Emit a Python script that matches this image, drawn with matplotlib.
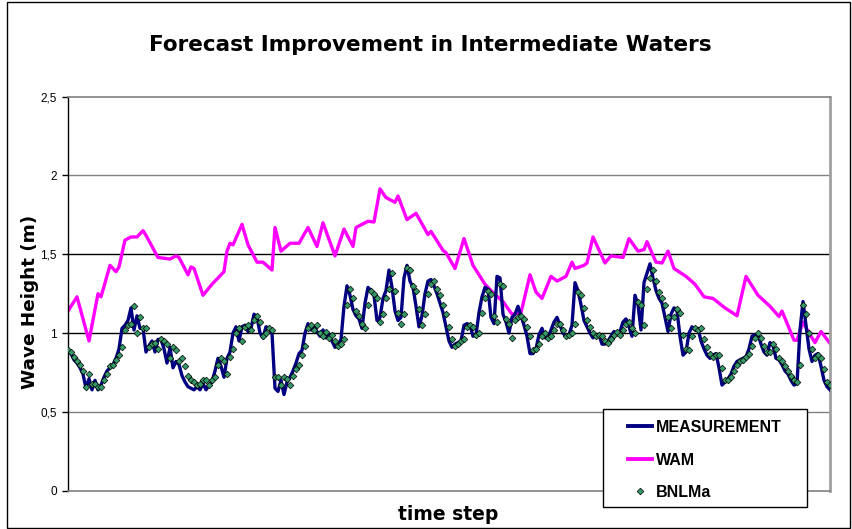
import matplotlib
matplotlib.use("Agg")
import matplotlib.pyplot as plt
from matplotlib.lines import Line2D
from matplotlib.ticker import FixedLocator, FixedFormatter
import numpy as np

# ---- data -------------------------------------------------------------
measurement = [
    0.89, 0.87, 0.83, 0.81, 0.78, 0.74, 0.65, 0.71, 0.64, 0.70,
    0.64, 0.67, 0.72, 0.76, 0.78, 0.80, 0.84, 0.90, 1.03, 1.05,
    1.08, 1.16, 1.02, 1.11, 1.03, 1.03, 0.88, 0.92, 0.95, 0.88,
    0.96, 0.96, 0.90, 0.81, 0.91, 0.78, 0.82, 0.80, 0.73, 0.69,
    0.66, 0.65, 0.64, 0.66, 0.64, 0.68, 0.64, 0.67, 0.69, 0.76,
    0.84, 0.79, 0.72, 0.84, 0.88, 1.00, 1.04, 0.95, 1.04, 1.05,
    1.01, 1.03, 1.12, 1.10, 1.00, 0.97, 1.04, 1.03, 1.00, 0.65,
    0.63, 0.70, 0.61, 0.69, 0.72, 0.76, 0.81, 0.87, 0.89, 1.00,
    1.06, 1.02, 1.04, 1.01, 0.98, 1.02, 0.97, 0.99, 0.95, 0.91,
    0.92, 0.96, 1.17, 1.30, 1.24, 1.15, 1.11, 1.09, 1.03, 1.19,
    1.29, 1.27, 1.24, 1.08, 1.10, 1.22, 1.27, 1.40, 1.29, 1.14,
    1.08, 1.10, 1.35, 1.43, 1.33, 1.29, 1.17, 1.04, 1.11, 1.25,
    1.33, 1.34, 1.30, 1.25, 1.19, 1.13, 1.04, 0.95, 0.91, 0.93,
    0.94, 0.95, 1.05, 1.06, 1.05, 0.98, 0.99, 1.13, 1.23, 1.29,
    1.28, 1.10, 1.06, 1.36, 1.35, 1.12, 1.07, 1.00, 1.10, 1.12,
    1.17, 1.11, 1.05, 0.98, 0.87, 0.87, 0.90, 0.99, 1.03, 0.97,
    0.97, 1.02, 1.07, 1.10, 1.05, 1.00, 0.98, 0.99, 1.05, 1.32,
    1.27, 1.18, 1.08, 1.04, 1.00, 0.97, 0.99, 0.99, 0.93, 0.93,
    0.95, 0.98, 1.01, 0.99, 1.01, 1.07, 1.09, 1.04, 0.98, 1.24,
    1.18, 1.02, 1.32, 1.38, 1.44, 1.35, 1.27, 1.22, 1.19, 1.10,
    1.01, 1.12, 1.16, 1.14, 0.98, 0.86, 0.88, 1.00, 1.04, 1.02,
    1.03, 0.95, 0.90, 0.86, 0.84, 0.86, 0.87, 0.78, 0.67, 0.69,
    0.71, 0.74, 0.79, 0.82, 0.83, 0.84, 0.85, 0.90, 0.98, 0.99,
    0.99, 0.93, 0.88, 0.86, 0.94, 0.92, 0.84, 0.83, 0.80, 0.76,
    0.74, 0.70, 0.67, 0.68, 1.02, 1.20, 1.05, 0.90, 0.82, 0.86,
    0.87, 0.79, 0.70, 0.66, 0.64,
]

bnlma = [
    0.89, 0.88, 0.85, 0.82, 0.80, 0.76, 0.66, 0.74, 0.68, 0.68,
    0.66, 0.66, 0.70, 0.74, 0.79, 0.80, 0.83, 0.86, 0.91, 1.02,
    1.05, 1.06, 1.17, 1.00, 1.10, 1.03, 1.03, 0.91, 0.93, 0.94,
    0.90, 0.96, 0.95, 0.93, 0.84, 0.91, 0.89, 0.82, 0.84, 0.79,
    0.73, 0.70, 0.69, 0.67, 0.68, 0.70, 0.70, 0.67, 0.70, 0.72,
    0.80, 0.84, 0.82, 0.74, 0.85, 0.90, 1.00, 1.03, 0.95, 1.04,
    1.05, 1.02, 1.08, 1.11, 1.07, 0.98, 1.00, 1.03, 1.02, 0.72,
    0.72, 0.67, 0.72, 0.71, 0.67, 0.73, 0.77, 0.80, 0.86, 0.92,
    1.03, 1.05, 1.02, 1.05, 1.00, 0.98, 1.01, 0.97, 0.99, 0.95,
    0.92, 0.93, 0.96, 1.18, 1.28, 1.22, 1.14, 1.11, 1.06, 1.03,
    1.18, 1.27, 1.25, 1.22, 1.07, 1.12, 1.22, 1.28, 1.38, 1.27,
    1.13, 1.06, 1.12, 1.41, 1.40, 1.30, 1.27, 1.15, 1.05, 1.12,
    1.25, 1.31, 1.33, 1.28, 1.24, 1.18, 1.12, 1.04, 0.96, 0.92,
    0.93, 0.95, 0.96, 1.04, 1.05, 1.04, 0.99, 1.00, 1.13, 1.22,
    1.27, 1.25, 1.11, 1.07, 1.31, 1.30, 1.09, 1.06, 0.97, 1.08,
    1.10, 1.11, 1.09, 1.04, 0.98, 0.89, 0.90, 0.93, 0.98, 1.00,
    0.97, 0.98, 1.02, 1.06, 1.06, 1.02, 0.98, 0.99, 1.00, 1.06,
    1.26, 1.24, 1.16, 1.08, 1.04, 1.00, 0.98, 0.99, 0.98, 0.95,
    0.94, 0.96, 0.99, 1.01, 0.99, 1.02, 1.06, 1.07, 1.03, 1.00,
    1.20, 1.18, 1.05, 1.28, 1.35, 1.40, 1.33, 1.26, 1.22, 1.18,
    1.10, 1.03, 1.10, 1.15, 1.13, 0.99, 0.90, 0.89, 0.98, 1.03,
    1.02, 1.03, 0.96, 0.91, 0.87, 0.85, 0.86, 0.86, 0.78, 0.70,
    0.70, 0.72, 0.76, 0.80, 0.82, 0.83, 0.85, 0.87, 0.92, 0.97,
    1.00, 0.97, 0.92, 0.88, 0.88, 0.93, 0.90, 0.84, 0.82, 0.79,
    0.76, 0.73, 0.70, 0.69, 0.80, 1.18, 1.12, 1.00, 0.90, 0.84,
    0.86, 0.84, 0.77, 0.69, 0.67,
]

wam_steps = [
    0, 3, 7, 10, 11, 14, 16, 17, 19, 21, 23, 25, 26, 30, 34, 36, 37, 40,
    41, 42, 45, 48, 52, 53, 54, 55, 58, 60, 63, 65, 68, 69, 71, 74, 77,
    80, 83, 85, 89, 92, 95, 96, 100, 102, 104, 106, 109, 110, 113, 116,
    120, 121, 125, 126, 129, 132, 135, 139, 142, 145, 148, 151, 154, 156,
    158, 161, 163, 166, 168, 169, 172, 173, 175, 179, 181, 185, 187, 190,
    192, 193, 196, 198, 200, 202, 206, 209, 212, 215, 219, 223, 226, 230,
    234, 237, 238, 242, 243, 245, 247, 249, 251, 254,
]
wam = [
    1.14, 1.23, 0.95, 1.25, 1.23, 1.43, 1.39, 1.42, 1.59, 1.61, 1.61,
    1.65, 1.62, 1.48, 1.47, 1.49, 1.48, 1.37, 1.42, 1.41, 1.24, 1.31,
    1.39, 1.52, 1.57, 1.56, 1.69, 1.56, 1.45, 1.45, 1.40, 1.67, 1.52,
    1.57, 1.57, 1.67, 1.55, 1.70, 1.49, 1.66, 1.55, 1.67, 1.71, 1.705,
    1.915, 1.86, 1.83, 1.87, 1.72, 1.76, 1.625, 1.645, 1.525, 1.51,
    1.41, 1.60, 1.43, 1.31, 1.25, 1.20, 1.12, 1.13, 1.37, 1.26, 1.22,
    1.36, 1.33, 1.36, 1.45, 1.41, 1.43, 1.445, 1.61, 1.445, 1.49, 1.48,
    1.60, 1.52, 1.53, 1.58, 1.45, 1.445, 1.52, 1.41, 1.36, 1.31, 1.23,
    1.22, 1.16, 1.11, 1.36, 1.24, 1.17, 1.105, 1.14, 0.955, 0.955,
    1.07, 1.00, 0.94, 1.01, 0.935,
]

series_names = ["MEASUREMENT", "WAM", "BNLMa"]
y_ticks = [0, 0.5, 1, 1.5, 2, 2.5]
y_tick_labels = ["0", "0,5", "1", "1,5", "2", "2,5"]

steps = np.arange(len(measurement))

# ---- styles -----------------------------------------------------------
MEAS_COLOR = "#000080"
WAM_COLOR = "#FF00FF"
BNL_FACE = "#339966"
LINE_W = 2.4
MARKER_KW = dict(marker="D", markersize=3.4, markerfacecolor=BNL_FACE,
                 markeredgecolor="black", markeredgewidth=0.5)

plt.rcParams["font.family"] = ["Liberation Sans", "DejaVu Sans"]

W, H = 852, 529
fig = plt.figure(figsize=(W / 100, H / 100), dpi=100)
fig.patch.set_facecolor("white")


def fx(px):
    return px / W


def fy(py):
    return 1 - py / H


ax_left, ax_right, ax_top, ax_bottom = 68, 830, 96.7, 490.7
ax = fig.add_axes([fx(ax_left), fy(ax_bottom),
                   (ax_right - ax_left) / W, (ax_bottom - ax_top) / H])

# horizontal gridlines
grid_colors = {0.5: "#808080", 1: "#000000", 1.5: "#000000", 2: "#808080"}
for yv, col in grid_colors.items():
    ax.axhline(yv, color=col, lw=1.0, zorder=1)

ax.plot(steps, measurement, color=MEAS_COLOR, lw=LINE_W, zorder=3,
        solid_joinstyle="round")
ax.plot(wam_steps, wam, color=WAM_COLOR, lw=LINE_W, zorder=2,
        solid_joinstyle="round")
ax.plot(steps, bnlma, ls="none", zorder=4, **MARKER_KW)

ax.set_xlim(0, len(measurement) - 1)
ax.set_ylim(0, 2.5)
ax.set_xticks([])
ax.yaxis.set_major_locator(FixedLocator(y_ticks))
ax.yaxis.set_major_formatter(FixedFormatter(y_tick_labels))
ax.tick_params(axis="y", direction="out", length=4, width=1, color="black",
               labelsize=8.5, pad=4)

for side in ("top", "bottom"):
    ax.spines[side].set_color("#808080")
    ax.spines[side].set_linewidth(1.2)
ax.spines["right"].set_color("#A0A0A0")
ax.spines["right"].set_linewidth(2)
ax.spines["left"].set_color("black")
ax.spines["left"].set_linewidth(1)

# titles and axis labels
label_font = ["DejaVu Sans"]
fig.text(fx(430), fy(45), "Forecast Improvement in Intermediate Waters",
         ha="center", va="center", fontsize=15.5, fontweight="bold",
         family=label_font)
fig.text(fx(30), fy(302), "Wave Height (m)", rotation=90,
         ha="center", va="center", fontsize=13.2, fontweight="bold",
         family=label_font)
fig.text(fx(448), fy(514), "time step",
         ha="center", va="center", fontsize=13.5, fontweight="bold",
         family=label_font)

# legend box
box = plt.Rectangle((fx(603), fy(507)), (807 - 603) / W, (507 - 409) / H,
                    transform=fig.transFigure, facecolor="white",
                    edgecolor="black", lw=1, zorder=10)
fig.patches.append(box)
entry_y = [425.5, 459, 491]
handles = [
    Line2D([fx(628), fx(652)], [fy(entry_y[0])] * 2, color=MEAS_COLOR,
           lw=LINE_W + 0.4, transform=fig.transFigure, zorder=11),
    Line2D([fx(628), fx(652)], [fy(entry_y[1])] * 2, color=WAM_COLOR,
           lw=LINE_W + 0.4, transform=fig.transFigure, zorder=11),
    Line2D([fx(640)], [fy(entry_y[2])], ls="none",
           transform=fig.transFigure, zorder=11, **MARKER_KW),
]
for h in handles:
    fig.lines.append(h)
for name, yy in zip(series_names, entry_y):
    fig.text(fx(656), fy(yy), name, ha="left", va="center_baseline",
             fontsize=11.5, fontweight="bold", zorder=12)

# outer chart frame
frame = plt.Rectangle((fx(7), fy(528)), (850 - 7) / W, (527 - 1) / H,
                      transform=fig.transFigure, fill=False,
                      edgecolor="black", lw=1)
fig.patches.append(frame)

fig.savefig("out.png", dpi=100)
